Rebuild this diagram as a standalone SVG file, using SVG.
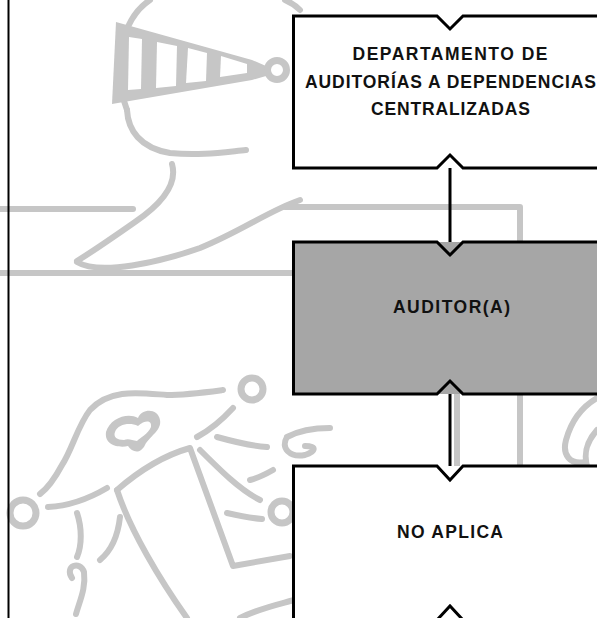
<svg xmlns="http://www.w3.org/2000/svg" width="597" height="618" viewBox="0 0 597 618">
  <style>
    .wm { fill: none; stroke: #c6c6c6; stroke-width: 6; stroke-linecap: round; stroke-linejoin: round; }
    .wmf { fill: #c6c6c6; stroke: none; }
    .box { stroke: #000; stroke-width: 3; }
    .edge { stroke: #000; stroke-width: 3; fill: none; }
    .lbl { font-family: "Liberation Sans", Arial, sans-serif; font-weight: bold; font-size: 17.5px; fill: #111; text-anchor: middle; }
  </style>

  <rect width="597" height="618" fill="#fff"/>

  <!-- background emblem (light grey line art) -->
  <g id="emblem">
    <!-- helmet dome -->
    <path class="wm" d="M127,110 C112,70 120,20 150,0"/>
    <path class="wm" d="M285,0 C292,3 297,7 300,10"/>
    <!-- visor -->
    <path class="wmf" d="M116,22 L252,60 L266,66 L266,76 L252,80 L112,104 Z"/>
    <circle cx="277" cy="70" r="9.5" fill="none" stroke="#c6c6c6" stroke-width="7"/>
    <path fill="#fff" d="M129,37 L142,39 L141,89 L128,90 Z"/>
    <path fill="#fff" d="M157,42 L177,46 L176,86 L156,88 Z"/>
    <path fill="#fff" d="M188,48 L207,53 L206,81 L186,83 Z"/>
    <path fill="#fff" d="M221,56 L247,64 L247,73 L220,77 Z"/>
    <!-- chin and neck -->
    <path class="wm" d="M127,110 C128,130 140,148 170,153 C200,156 225,152 246,150"/>
    <path class="wm" d="M172,164 C178,185 160,205 135,222 C115,236 95,250 77,261"/>
    <path class="wm" d="M77,262 C100,276 160,262 200,248 C240,232 270,210 300,200"/>
    <!-- frame lines -->
    <path class="wm" d="M0,209 L133,209"/>
    <path class="wm" d="M0,273 L293,273"/>
    <path class="wm" d="M285,207 L520,207 L520,480" stroke-width="7" stroke-linecap="butt"/>
    <path class="wm" d="M457,394 L457,466" stroke-width="8" stroke-linecap="butt"/>
    <!-- lower figure -->
    <circle cx="252" cy="389" r="11" fill="none" stroke="#c6c6c6" stroke-width="7"/>
    <path class="wm" d="M223,390 C200,393 185,395 167,395 C140,393 110,388 90,410 C78,425 72,450 62,465 C55,478 48,488 40,494"/>
    <path class="wm" d="M233,408 C222,420 210,430 197,437"/>
    <circle cx="23" cy="513" r="13" fill="none" stroke="#c6c6c6" stroke-width="7"/>
    <path class="wm" d="M48,507 C70,506 90,498 107,488"/>
    <path class="wmf" d="M106,432 C110,418 128,412 138,418 C142,408 158,408 160,420 C162,430 150,436 145,445 C140,455 132,452 128,446 C120,448 104,446 106,432 Z"/>
    <path fill="#fff" d="M115,432 C118,424 130,422 138,426 C145,420 152,420 151,427 C148,434 140,438 137,441 C132,440 128,438 124,440 C117,440 113,437 115,432 Z"/>
    <path class="wm" d="M117,490 C140,470 165,455 190,448 L233,566 L290,556"/>
    <path class="wm" d="M117,490 C130,530 160,580 187,618"/>
    <path class="wm" d="M200,450 C220,470 240,490 260,500"/>
    <path class="wm" d="M217,437 C235,442 252,446 267,447"/>
    <path class="wm" d="M250,480 C258,478 266,474 273,470"/>
    <path class="wm" d="M227,513 C240,516 250,518 262,519"/>
    <circle cx="282" cy="512" r="11" fill="none" stroke="#c6c6c6" stroke-width="7"/>
    <path class="wm" d="M287,437 C300,430 315,428 330,428 M287,437 C280,448 290,458 305,455 C315,452 318,446 305,446"/>
    <path class="wm" d="M77,513 C82,528 82,545 77,557"/>
    <path class="wm" d="M120,517 C118,535 112,550 100,560"/>
    <path class="wm" d="M72,578 C64,566 80,560 84,572 C86,588 80,600 76,614"/>
    <path class="wm" d="M240,618 C260,608 280,604 294,600"/>
    <!-- right side foliage -->
    <path class="wm" d="M597,398 C585,405 572,418 566,440 C562,455 570,465 585,462"/>
    <path class="wm" d="M597,430 C588,440 582,452 588,470"/>
  </g>

  <!-- left margin rule -->
  <line x1="8.5" y1="0" x2="8.5" y2="618" stroke="#000" stroke-width="2"/>

  <!-- connectors -->
  <g id="connectors">
    <line class="edge" x1="450" y1="168" x2="450" y2="243"/>
    <line class="edge" x1="450" y1="394" x2="450" y2="467"/>
  </g>

  <!-- node: department -->
  <g id="node-departamento">
    <rect x="293.5" y="16" width="320" height="152" fill="#fff" stroke="none"/>
    <path class="box" fill="none" d="M614,16 L463,16 L450,29 L437,16 L293.5,16 L293.5,168 L437,168 L450,155 L463,168 L614,168"/>
    <text class="lbl" x="450" y="60" textLength="195" lengthAdjust="spacing">DEPARTAMENTO  DE</text>
    <text class="lbl" x="450.5" y="87.5" textLength="291" lengthAdjust="spacing">AUDITORÍAS A DEPENDENCIAS</text>
    <text class="lbl" x="450.5" y="115" textLength="159" lengthAdjust="spacing">CENTRALIZADAS</text>
  </g>

  <!-- node: auditor -->
  <g id="node-auditor">
    <rect x="293.5" y="242" width="320" height="152" fill="#a6a6a6" stroke="none"/>
    <path class="box" fill="none" d="M614,242 L463,242 L450,255 L437,242 L293.5,242 L293.5,394 L437,394 L450,381 L463,394 L614,394"/>
    <text class="lbl" x="451.5" y="312.5" textLength="117" lengthAdjust="spacing">AUDITOR(A)</text>
  </g>

  <!-- node: not applicable -->
  <g id="node-no-aplica">
    <rect x="293.5" y="466" width="320" height="154" fill="#fff" stroke="none"/>
    <path class="box" fill="none" d="M614,466 L463,466 L450,480 L437,466 L293.5,466 L293.5,620 M437,620 L450,606 L463,620"/>
    <text class="lbl" x="450" y="537.5" textLength="106" lengthAdjust="spacing">NO APLICA</text>
  </g>
</svg>
